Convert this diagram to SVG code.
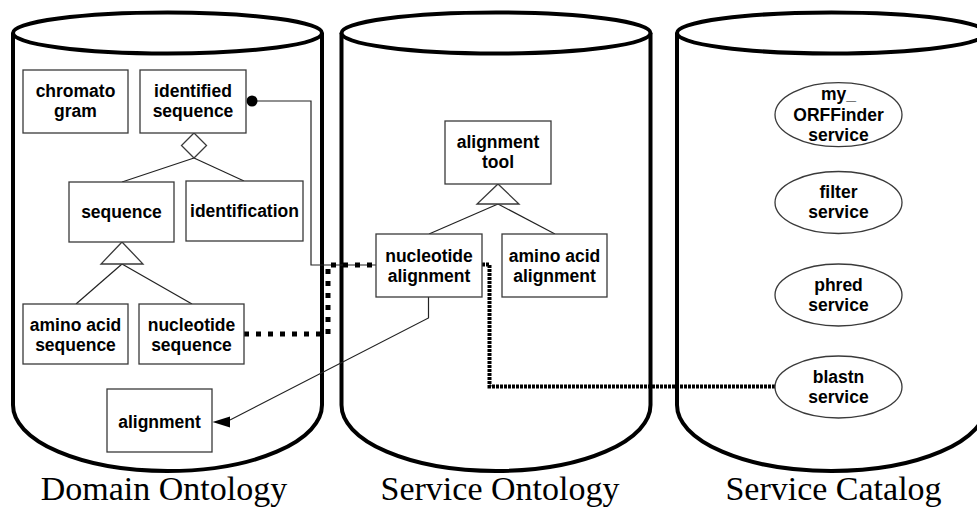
<svg xmlns="http://www.w3.org/2000/svg" width="977" height="508" viewBox="0 0 977 508">
<style>
.cyl{fill:#fff;stroke:#000;stroke-width:4}
.box{fill:#fff;stroke:#3a3a3a;stroke-width:1.3}
.t{font-family:"Liberation Sans",Arial,sans-serif;font-weight:bold;font-size:17.5px;fill:#000;text-anchor:middle}
.lbl{font-family:"Liberation Serif","Times New Roman",serif;font-size:34px;fill:#000;text-anchor:middle}
.thin{fill:none;stroke:#222;stroke-width:1.2}
.dot1{fill:none;stroke:#000;stroke-width:5;stroke-dasharray:5 7}
.dot2{fill:none;stroke:#000;stroke-width:4;stroke-dasharray:3 1}
</style>
<rect width="977" height="508" fill="#fff"/>
<g id="cyl-domain">
<path class="cyl" d="M13,33 L13,405 A154.5,66 0 0 0 322,405 L322,33"/>
<ellipse class="cyl" cx="167.5" cy="33" rx="154.5" ry="20.5"/>
<text class="lbl" x="164" y="500">Domain Ontology</text>
</g>
<g id="cyl-service">
<path class="cyl" d="M341.5,33 L341.5,405 A154.5,66 0 0 0 650.5,405 L650.5,33"/>
<ellipse class="cyl" cx="496" cy="33" rx="154.5" ry="20.5"/>
<text class="lbl" x="500" y="500">Service Ontology</text>
</g>
<g id="cyl-catalog">
<path class="cyl" d="M677,33 L677,405 A154.5,66 0 0 0 986,405 L986,33"/>
<ellipse class="cyl" cx="831.5" cy="33" rx="154.5" ry="20.5"/>
<text class="lbl" x="833.5" y="500">Service Catalog</text>
</g>
<g id="connectors">
<polyline class="thin" points="194,158 122,182"/>
<polyline class="thin" points="194,158 244,181"/>
<polyline class="thin" points="122,264 76,304"/>
<polyline class="thin" points="122,264 192,304"/>
<polyline class="thin" points="498,204 429,234"/>
<polyline class="thin" points="498,204 555,234"/>
<polyline class="thin" points="252,101 311,101 311,265 376,265"/>
<circle cx="252" cy="101" r="5.5" fill="#000"/>
<polyline class="thin" points="428.5,297 428.5,318 230,420"/>
<polygon points="212.5,422 230,416.5 230,427.5" fill="#000"/>
<polyline class="dot1" points="244,334 328,334 328,265 376,265"/>
<polyline class="dot2" points="482,264.5 489.5,264.5 489.5,386.5 776,386.5"/>
<polygon class="box" points="194,133 206.5,145.5 194,158 181.5,145.5"/>
<polygon class="box" points="122,242 143,264 101,264"/>
<polygon class="box" points="498,184 519,204 477,204"/>
</g>
<g id="chromatogram">
<rect class="box" x="23" y="70" width="105" height="63"/>
<text class="t" x="75.5" y="96.8">chromato</text>
<text class="t" x="75.5" y="117">gram</text>
</g>
<g id="identified-sequence">
<rect class="box" x="140" y="70" width="106" height="63"/>
<text class="t" x="193" y="96.8">identified</text>
<text class="t" x="193" y="117">sequence</text>
</g>
<g id="sequence">
<rect class="box" x="69" y="182" width="105" height="60"/>
<text class="t" x="121.5" y="218">sequence</text>
</g>
<g id="identification">
<rect class="box" x="186" y="181" width="117" height="60"/>
<text class="t" x="244.5" y="217">identification</text>
</g>
<g id="amino-acid-sequence">
<rect class="box" x="23" y="304" width="105" height="60"/>
<text class="t" x="75.5" y="331">amino acid</text>
<text class="t" x="75.5" y="351">sequence</text>
</g>
<g id="nucleotide-sequence">
<rect class="box" x="139" y="304" width="105" height="60"/>
<text class="t" x="191.5" y="331">nucleotide</text>
<text class="t" x="191.5" y="351">sequence</text>
</g>
<g id="alignment">
<rect class="box" x="107" y="389" width="105" height="63"/>
<text class="t" x="159.5" y="427.5">alignment</text>
</g>
<g id="alignment-tool">
<rect class="box" x="445" y="121" width="106" height="63"/>
<text class="t" x="498" y="148.3">alignment</text>
<text class="t" x="498" y="168.3">tool</text>
</g>
<g id="nucleotide-alignment">
<rect class="box" x="376" y="234" width="106" height="63"/>
<text class="t" x="429" y="261.7">nucleotide</text>
<text class="t" x="429" y="281.7">alignment</text>
</g>
<g id="amino-acid-alignment">
<rect class="box" x="502" y="234" width="105" height="63"/>
<text class="t" x="554.5" y="261.7">amino acid</text>
<text class="t" x="554.5" y="281.7">alignment</text>
</g>
<g id="my-orffinder-service">
<ellipse class="box" cx="838.5" cy="114.7" rx="63.5" ry="32"/>
<text class="t" x="838.5" y="100">my_</text>
<text class="t" x="838.5" y="120.6">ORFFinder</text>
<text class="t" x="838.5" y="141">service</text>
</g>
<g id="filter-service">
<ellipse class="box" cx="838.5" cy="202.5" rx="63.5" ry="31"/>
<text class="t" x="838.5" y="198.3">filter</text>
<text class="t" x="838.5" y="218.3">service</text>
</g>
<g id="phred-service">
<ellipse class="box" cx="838.5" cy="295" rx="63.5" ry="31"/>
<text class="t" x="838.5" y="290.7">phred</text>
<text class="t" x="838.5" y="310.7">service</text>
</g>
<g id="blastn-service">
<ellipse class="box" cx="838.5" cy="387" rx="63.5" ry="31"/>
<text class="t" x="838.5" y="382.7">blastn</text>
<text class="t" x="838.5" y="403">service</text>
</g>
</svg>
